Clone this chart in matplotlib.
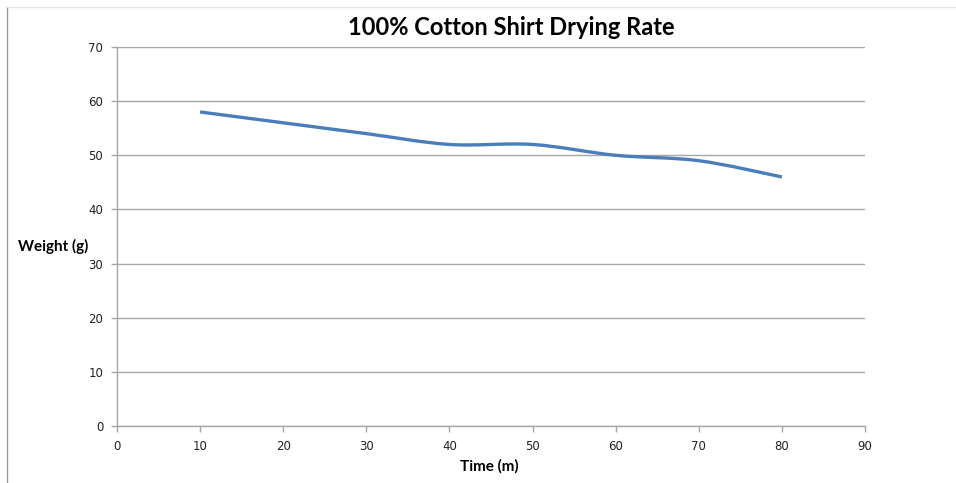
import matplotlib
matplotlib.use("Agg")
import matplotlib.pyplot as plt
from matplotlib.path import Path
from matplotlib.patches import PathPatch
from matplotlib.lines import Line2D

# --- Data ---
time_min = [10, 20, 30, 40, 50, 60, 70, 80]
weight_g = [58, 56, 54, 52, 52, 50, 49, 46]
x_ticks = [0, 10, 20, 30, 40, 50, 60, 70, 80, 90]
y_ticks = [0, 10, 20, 30, 40, 50, 60, 70]

line_color = '#4a7ebb'
grid_color = '#a6a6a6'


def smooth_path(xs, ys):
    """Excel-style smoothed line: Catmull-Rom turned into cubic Bezier segments."""
    pts = list(zip(xs, ys))
    verts = [pts[0]]
    codes = [Path.MOVETO]
    n = len(pts)
    for i in range(n - 1):
        p0 = pts[i - 1] if i > 0 else pts[i]
        p1 = pts[i]
        p2 = pts[i + 1]
        p3 = pts[i + 2] if i + 2 < n else pts[i + 1]
        c1 = (p1[0] + (p2[0] - p0[0]) / 6, p1[1] + (p2[1] - p0[1]) / 6)
        c2 = (p2[0] - (p3[0] - p1[0]) / 6, p2[1] - (p3[1] - p1[1]) / 6)
        verts += [c1, c2, p2]
        codes += [Path.CURVE4] * 3
    return Path(verts, codes)


fig = plt.figure(figsize=(9.56, 4.83), dpi=100)
ax = fig.add_axes([0.1224, 0.118, 0.7824, 0.7847])

ax.add_patch(PathPatch(smooth_path(time_min, weight_g), facecolor='none',
                       edgecolor=line_color, linewidth=2.4, capstyle='butt'))

ax.set_xlim(0, 90)
ax.set_ylim(0, 70)
ax.set_xticks(x_ticks)
ax.set_yticks(y_ticks)
ax.tick_params(direction='out', length=4, width=1, color=grid_color,
               labelsize=8.5, labelcolor='#222222', pad=6)
ax.yaxis.grid(True, color=grid_color, linewidth=1)
ax.set_axisbelow(True)
for side in ['top', 'right']:
    ax.spines[side].set_visible(False)
for side in ['left', 'bottom']:
    ax.spines[side].set_color(grid_color)
    ax.spines[side].set_linewidth(1)

# titles and axis labels
fig.text(0.535, 0.944, '100% Cotton Shirt Drying Rate', ha='center', va='center',
         fontsize=17, fontweight='bold', family='Lato')
fig.text(0.512, 0.035, 'Time (m)', ha='center', va='center',
         fontsize=11, fontweight='bold', family='Lato')
fig.text(0.019, 0.489, 'Weight (g)', ha='left', va='center',
         fontsize=11, fontweight='bold', family='Lato')

# chart border bits
fig.add_artist(Line2D([0.0073, 0.0073], [0, 0.985], color='#999999', linewidth=1))
fig.add_artist(Line2D([0.0073, 1], [0.985, 0.985], color='#e6e6e6', linewidth=1))

fig.savefig('out.png', dpi=100)
